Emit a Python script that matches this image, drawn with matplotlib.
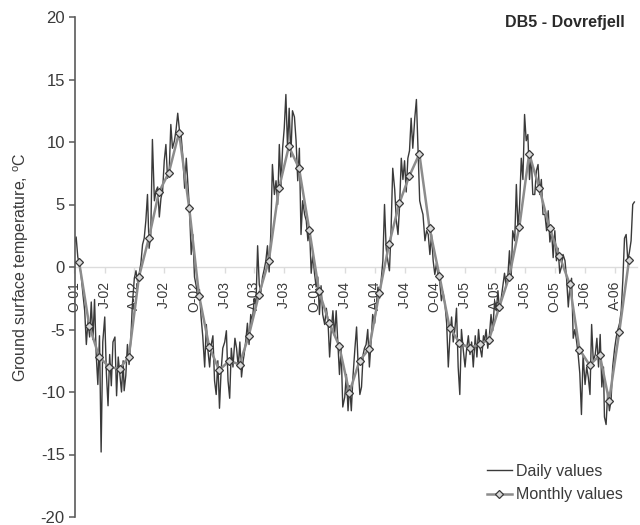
import matplotlib
matplotlib.use('Agg')
import matplotlib.pyplot as plt
import pandas as pd

plt.rcParams['font.family'] = ['Liberation Sans', 'DejaVu Sans']
plt.rcParams['mathtext.fontset'] = 'custom'
plt.rcParams['mathtext.rm'] = 'Liberation Sans'
plt.rcParams['mathtext.it'] = 'Liberation Sans:italic'
plt.rcParams['axes.unicode_minus'] = False

# ---------------- data ----------------
months = pd.period_range('2001-10', '2006-05', freq='M')

monthly_values = [
    0.4, -4.7, -7.2,
    -8.0, -8.15, -7.2, -0.8, 2.3, 6.0, 7.55, 10.75, 4.7, -2.3, -6.4, -8.25,
    -7.5, -7.8, -5.5, -2.2, 0.5, 6.3, 9.65, 7.9, 3.0, -1.95, -4.5, -6.3,
    -10.05, -7.5, -6.55, -2.1, 1.85, 5.1, 7.25, 9.05, 3.1, -0.7, -4.85, -6.05,
    -6.5, -6.15, -5.8, -3.2, -0.8, 3.2, 9.05, 6.3, 3.1, 0.9, -1.35, -6.6,
    -7.85, -7.05, -10.7, -5.2, 0.6,
]

sample_days = [1, 6, 11, 16, 21, 26]
last_day = '2006-05-31'

daily_values = [
    1.9, 2.4, 0.8, 0.2, -0.6, -2.0,          # Oct 01
    -3.5, -6.2, -4.3, -5.6, -2.8, -5.8,      # Nov 01
    -2.6, -7.0, -9.4, -5.5, -14.8, -6.0,     # Dec 01
    -4.0, -8.5, -11.1, -7.0, -9.5, -6.0,     # Jan 02
    -5.6, -10.3, -7.2, -8.6, -10.0, -7.5,    # Feb 02
    -9.9, -8.7, -6.2, -7.8, -6.0, -3.0,      # Mar 02
    -0.9, -0.3, -1.2, -0.5, 0.3, 1.8,        # Apr 02
    2.3, 3.7, 5.8, 1.5, 2.6, 10.2,           # May 02
    5.3, 6.1, 6.4, 4.0, 5.5, 6.1,            # Jun 02
    8.5, 9.8, 7.1, 7.6, 11.4, 9.5,           # Jul 02
    10.1, 11.0, 12.3, 11.0, 10.6, 9.0,       # Aug 02
    6.3, 8.7, 6.6, 4.5, 1.0, 2.6,            # Sep 02
    -0.8, -1.5, -2.5, -1.8, -4.0, -5.5,      # Oct 02
    -8.0, -4.6, -6.7, -8.0, -6.2, -5.5,      # Nov 02
    -9.1, -10.2, -7.5, -11.3, -8.3, -6.5,    # Dec 02
    -6.0, -5.1, -9.1, -10.5, -6.5, -8.0,     # Jan 03
    -5.7, -6.5, -8.0, -6.0, -8.8, -7.5,      # Feb 03
    -7.0, -5.9, -4.5, -6.2, -3.8, -4.3,      # Mar 03
    -2.5, -3.0, 1.7, -1.4, -2.0, -0.8,       # Apr 03
    -0.2, 0.5, 1.7, -0.4, 2.6, 8.2,          # May 03
    5.8, 6.9, 5.0, 9.8, 6.5, 9.5,            # Jun 03
    11.1, 13.8, 9.5, 12.7, 8.8, 12.5,        # Jul 03
    12.0, 10.1, 6.9, 9.5, 2.6, 5.3,          # Aug 03
    4.2, 3.7, 2.1, 3.0, -0.5, 1.0,           # Sep 03
    -0.5, -1.6, -0.8, -3.8, -1.5, -3.8,      # Oct 03
    -4.6, -3.3, -4.3, -7.2, -5.0, -3.5,      # Nov 03
    -5.5, -3.5, -6.0, -8.6, -6.5, -11.2,     # Dec 03
    -10.4, -8.6, -11.5, -9.5, -11.5, -8.8,   # Jan 04
    -6.5, -4.8, -8.0, -10.2, -9.6, -7.0,     # Feb 04
    -6.5, -6.2, -5.0, -8.0, -6.0, -3.8,      # Mar 04
    -4.5, -3.0, -1.6, -2.5, -1.0, 0.5,       # Apr 04
    5.0, 1.5, 0.5, -0.3, 3.0, 7.9,           # May 04
    6.2, 3.7, 2.6, 5.0, 8.7, 7.0,            # Jun 04
    8.5, 6.0, 8.7, 9.3, 11.9, 9.5,           # Jul 04
    11.9, 13.4, 9.3, 5.3, 4.7, 4.2,          # Aug 04
    2.1, 2.9, 2.6, 1.0, 2.6, 0.5,            # Sep 04
    -0.6, 0.3, -0.7, -1.2, -2.7, -2.0,       # Oct 04
    -3.0, -4.5, -8.0, -5.5, -4.0, -6.0,      # Nov 04
    -5.0, -3.3, -8.0, -10.2, -5.0, -6.5,     # Dec 04
    -8.0, -6.5, -5.5, -7.0, -6.0, -8.0,      # Jan 05
    -5.5, -7.2, -5.0, -6.5, -7.2, -5.5,      # Feb 05
    -6.0, -5.0, -6.5, -5.5, -3.8, -5.1,      # Mar 05
    -2.7, -3.5, -1.9, -3.5, -2.5, -1.5,      # Apr 05
    -0.5, -1.5, -0.8, 1.3, -1.0, 2.9,        # May 05
    2.1, 6.6, 3.0, 5.0, 8.7, 7.0,            # Jun 05
    12.2, 10.1, 10.6, 7.0, 9.0, 5.8,         # Jul 05
    5.8, 7.7, 8.2, 5.8, 7.0, 4.2,            # Aug 05
    4.2, 2.9, 4.5, 2.0, 3.0, 0.75,           # Sep 05
    2.9, 0.5, 1.5, -0.5, 0.0, 1.0,           # Oct 05
    0.5, -1.0, -3.2, -1.5, -0.9, -5.7,       # Nov 05
    -5.0, -5.9, -7.0, -8.5, -11.8, -7.0,     # Dec 05
    -9.4, -8.0, -8.85, -10.2, -4.6, -7.5,    # Jan 06
    -7.0, -5.7, -8.0, -5.4, -9.6, -8.0,      # Feb 06
    -12.0, -12.6, -10.0, -11.5, -10.7, -8.0, # Mar 06
    -6.5, -5.6, -5.0, -4.5, -3.5, -1.0,      # Apr 06
    2.3, 2.6, 0.5, 1.2, 2.1, 5.0,            # May 06
    5.2,                                     # 31 May 06
]

tick_labels = ['O-01', 'J-02', 'A-02', 'J-02', 'O-02', 'J-03', 'A-03', 'J-03',
               'O-03', 'J-04', 'A-04', 'J-04', 'O-04', 'J-05', 'A-05', 'J-05',
               'O-05', 'J-06', 'A-06']

x_start, x_end = '2001-10-01', '2006-06-08'

# ---------------- derived positions ----------------
daily_dates = [pd.Timestamp(year=p.year, month=p.month, day=d)
               for p in months for d in sample_days] + [pd.Timestamp(last_day)]
monthly_dates = [pd.Timestamp(year=p.year, month=p.month, day=15) for p in months]
tick_dates = pd.date_range(x_start, '2006-04-01', freq='QS')

# ---------------- figure ----------------
W, H = 640, 525
fig = plt.figure(figsize=(W / 100, H / 100), dpi=100)
ax = fig.add_axes([74.5 / W, 8 / H, (637 - 74.5) / W, 500 / H])

dark = '#3a3a3a'
ax.plot(daily_dates, daily_values, color=dark, lw=1.0, label='Daily values', zorder=2)
ax.plot(monthly_dates, monthly_values, color='#8c8c8c', lw=1.8, marker='D', ms=4.5,
        mfc='#d8d8d8', mec=dark, mew=0.9, label='Monthly values', zorder=3)

ax.set_xlim(pd.Timestamp(x_start), pd.Timestamp(x_end))
ax.set_ylim(-20, 20)
ax.set_yticks(range(-20, 21, 5))
ax.set_xticks(tick_dates)
ax.set_xticklabels(tick_labels)

for s in ('top', 'right'):
    ax.spines[s].set_visible(False)
ax.spines['left'].set_color('#5a5a5a')
ax.spines['left'].set_linewidth(1.2)
ax.spines['bottom'].set_position(('data', 0))
ax.spines['bottom'].set_color('#dcdcdc')
ax.spines['bottom'].set_linewidth(1.0)
ax.spines['bottom'].set_zorder(0.5)

ax.tick_params(axis='y', direction='out', length=4, width=1.1, color='#5a5a5a',
               labelsize=12, labelcolor=dark, pad=3)
ax.tick_params(axis='x', direction='out', length=4, width=1.0, color='#dcdcdc',
               labelsize=10, labelcolor=dark, pad=6, labelrotation=90)

fig.text(21 / W, 1 - 267 / H, 'Ground surface temperature, $^{\\mathrm{o}}$C',
         rotation=90, ha='center', va='center', fontsize=11.5, color=dark)
fig.text(625 / W, 1 - 22 / H, 'DB5 - Dovrefjell', ha='right', va='center',
         fontsize=11.5, fontweight='bold', color='#2a2a2a')

ax.legend(loc='center left', bbox_to_anchor=(487 / W, 1 - 483 / H),
          bbox_transform=fig.transFigure, frameon=False, fontsize=11.5,
          handlelength=1.55, handletextpad=0.25, labelspacing=0.55,
          borderpad=0, borderaxespad=0, labelcolor=dark)

fig.savefig('out.png', dpi=100)
